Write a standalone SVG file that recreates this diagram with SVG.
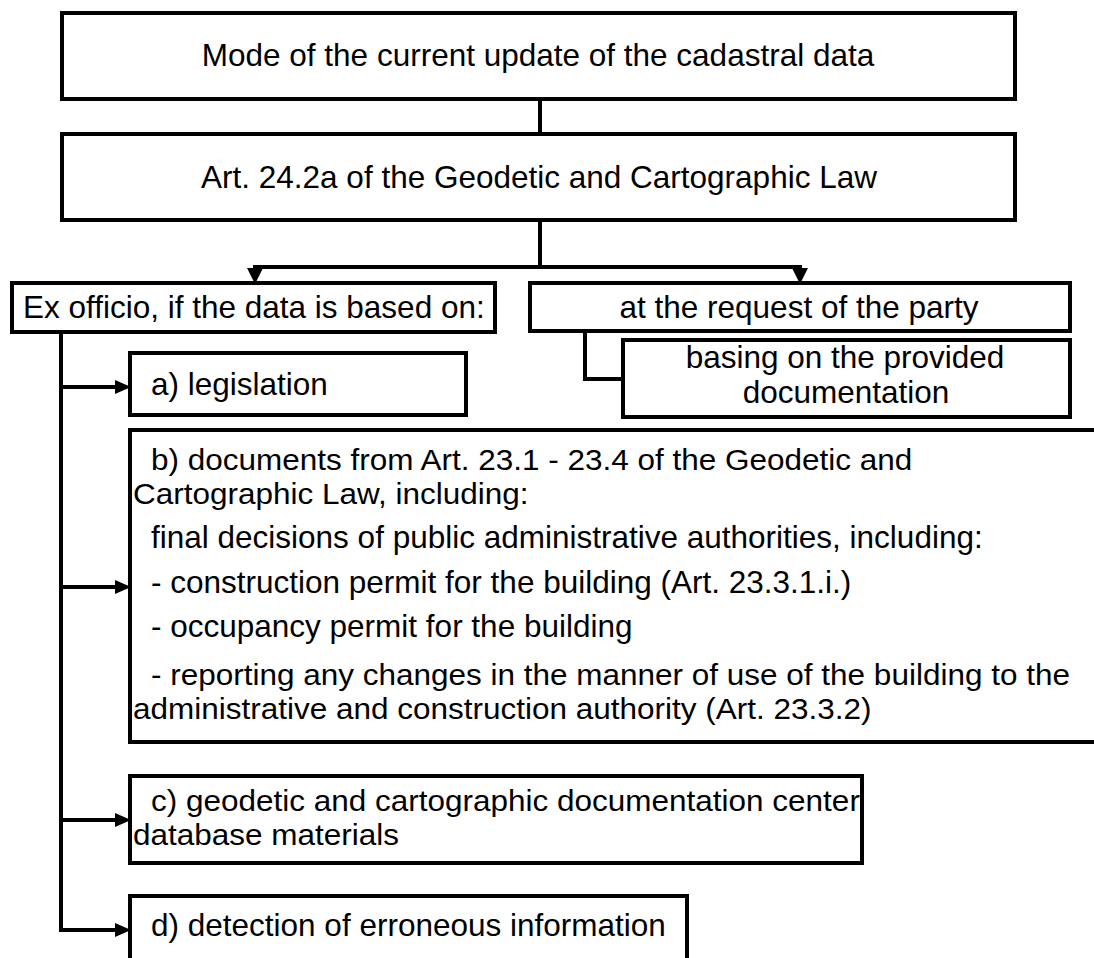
<svg xmlns="http://www.w3.org/2000/svg" width="1094" height="958" viewBox="0 0 1094 958">
<defs>
<style>
.box{fill:#fff;stroke:#000;stroke-width:4}
.t{font-family:"Liberation Sans",Arial,sans-serif;font-size:31.5px;fill:#000}
.w{font-family:"Liberation Sans",Arial,sans-serif;font-size:29.5px;fill:#000}
.c{text-anchor:middle}
.ln{fill:none;stroke:#000;stroke-width:4;stroke-linejoin:miter}
.ah{fill:#000}
</style>
</defs>
<rect width="1094" height="958" fill="#fff"/>
<g id="connectors">
<path class="ln" d="M540,99 V134" stroke-width="3"/>
<path class="ln" d="M540,220 V267"/>
<path class="ln" d="M255,275 V267 H800 V275"/>
<polygon class="ah" points="247,268 263,268 255,284"/>
<polygon class="ah" points="792,268 808,268 800,284"/>
<path class="ln" d="M585,331 V379 H623"/>
<path class="ln" d="M61,332 V930 H118" stroke-width="5"/>
<path class="ln" d="M61,387 H118"/>
<path class="ln" d="M61,587 H118"/>
<path class="ln" d="M61,820 H118"/>
<polygon class="ah" points="115,380 131,387 115,394"/>
<polygon class="ah" points="115,580 131,587 115,594"/>
<polygon class="ah" points="115,813 131,820 115,827"/>
<polygon class="ah" points="115,923 131,930 115,937"/>
</g>
<g id="n-mode">
<rect class="box" x="62" y="13" width="953" height="86"/>
<text class="t c" x="538" y="66">Mode of the current update of the cadastral data</text>
</g>
<g id="n-art">
<rect class="box" x="62" y="134" width="953" height="86"/>
<text class="t c" x="539" y="188">Art. 24.2a of the Geodetic and Cartographic Law</text>
</g>
<g id="n-exofficio">
<rect class="box" x="12" y="283" width="483" height="49"/>
<text class="t" x="23" y="318">Ex officio, if the data is based on:</text>
</g>
<g id="n-request">
<rect class="box" x="530" y="283" width="540" height="48"/>
<text class="t c" x="799" y="318">at the request of the party</text>
</g>
<g id="n-basing">
<rect class="box" x="623" y="340" width="447" height="77"/>
<text class="t c" x="845" y="368">basing on the provided</text>
<text class="t c" x="846" y="403">documentation</text>
</g>
<g id="n-a">
<rect class="box" x="130" y="353" width="336" height="62"/>
<text class="t" x="151" y="395">a) legislation</text>
</g>
<g id="n-b">
<rect class="box" x="130" y="430" width="970" height="312"/>
<text class="w" transform="translate(151,470) scale(1.068,1)">b) documents from Art. 23.1 - 23.4 of the Geodetic and</text>
<text class="w" transform="translate(133,504) scale(1.068,1)">Cartographic Law, including:</text>
<text class="t" x="151" y="548">final decisions of public administrative authorities, including:</text>
<text class="t" x="151" y="593">- construction permit for the building (Art. 23.3.1.i.)</text>
<text class="t" x="151" y="637">- occupancy permit for the building</text>
<text class="w" transform="translate(151,685) scale(1.068,1)">- reporting any changes in the manner of use of the building to the</text>
<text class="w" transform="translate(133,719) scale(1.068,1)">administrative and construction authority (Art. 23.3.2)</text>
</g>
<g id="n-c">
<rect class="box" x="130" y="776" width="732" height="87"/>
<text class="w" transform="translate(151,811) scale(1.068,1)">c) geodetic and cartographic documentation center</text>
<text class="w" transform="translate(133,845) scale(1.068,1)">database materials</text>
</g>
<g id="n-d">
<rect class="box" x="130" y="896" width="557" height="70"/>
<text class="t" x="151" y="936">d) detection of erroneous information</text>
</g>
</svg>
